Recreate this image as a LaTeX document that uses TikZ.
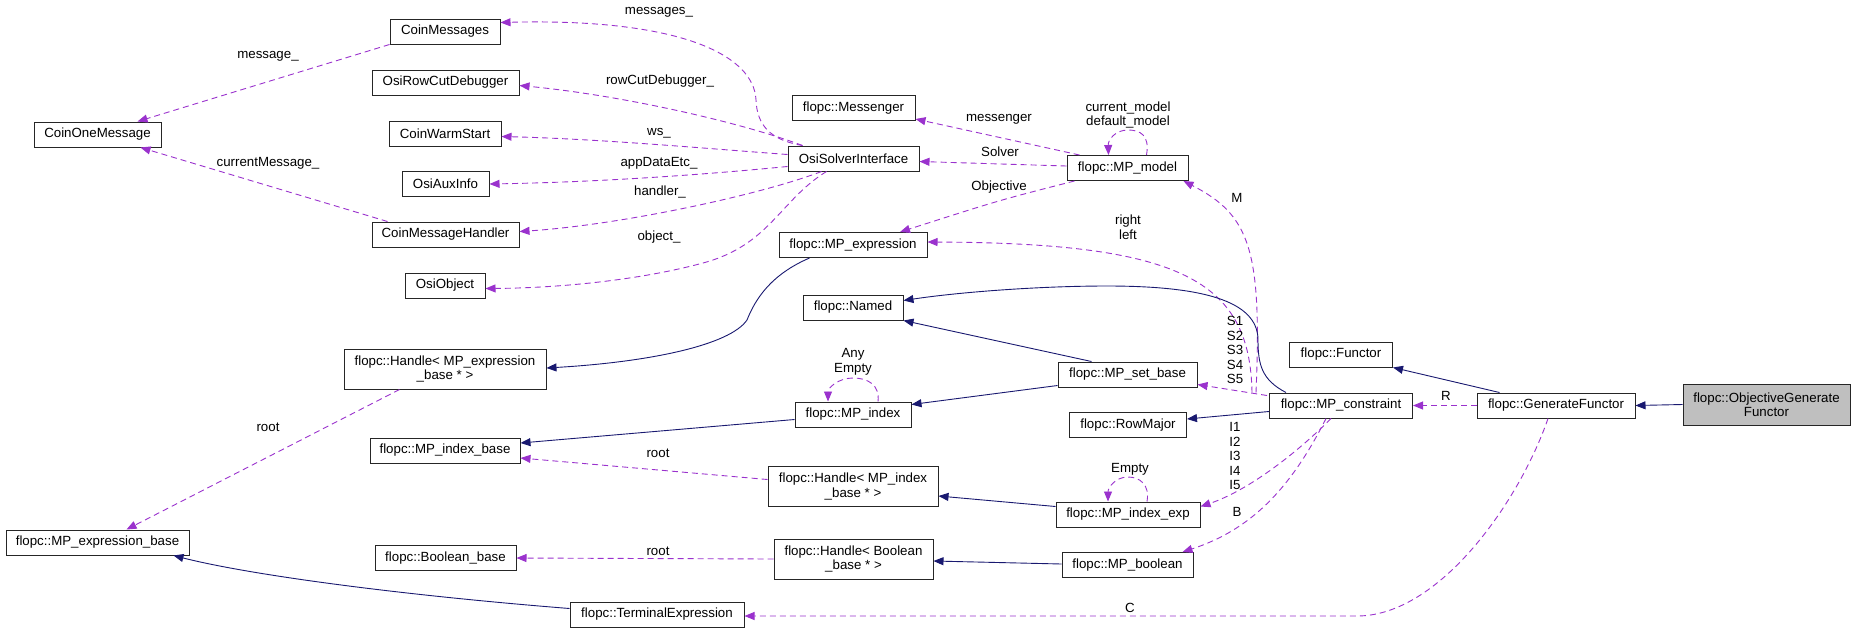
\documentclass[tikz,border=0pt]{standalone}
\usepackage{fontspec}
\setmainfont{Liberation Sans}
\usetikzlibrary{arrows.meta,calc}
\definecolor{dep}{HTML}{9A32CD}
\definecolor{inh}{HTML}{191970}
\begin{document}
\begin{tikzpicture}[x=1pt,y=-1pt,
  every node/.style={font=\fontsize{13.3}{14.5}\selectfont},
  box/.style={draw=black!85,line width=1pt,inner sep=0pt,minimum height=25pt,align=center},
  box2/.style={box,minimum height=40pt},
  lbl/.style={inner sep=0pt,align=center},
  dep/.style={draw=dep,line width=0.9pt,dash pattern=on 6pt off 4pt,-{Triangle[length=10pt,width=8pt]}},
  inh/.style={draw=inh,line width=0.9pt,-{Triangle[length=10pt,width=8pt]}}]
\useasboundingbox (0,0) rectangle (1856,633);
% nodes
\node[box,minimum width=110pt] (cmsgs) at (445,31.5) {CoinMessages};
\node[box,minimum width=147pt] (rowcut) at (445.5,82.5) {OsiRowCutDebugger};
\node[box,minimum width=112pt] (warm) at (445,133.5) {CoinWarmStart};
\node[box,minimum width=87pt] (aux) at (445.5,184) {OsiAuxInfo};
\node[box,minimum width=147pt] (chand) at (445.5,234.5) {CoinMessageHandler};
\node[box,minimum width=80pt] (oobj) at (445,285.5) {OsiObject};
\node[box,minimum width=127pt] (com) at (97.5,134.5) {CoinOneMessage};
\node[box,minimum width=123pt] (messenger) at (853.5,108) {flopc::Messenger};
\node[box,minimum width=131pt] (osi) at (853.5,158.5) {OsiSolverInterface};
\node[box,minimum width=148pt] (mpexpr) at (853,245) {flopc::MP\_expression};
\node[box,minimum width=100pt] (named) at (853,307.5) {flopc::Named};
\node[box,minimum width=121pt] (model) at (1127.5,168) {flopc::MP\_model};
\node[box2,minimum width=202pt] (hexpr) at (445,369) {flopc::Handle< MP\_expression\\\_base * >};
\node[box,minimum width=150pt] (idxbase) at (445,450.5) {flopc::MP\_index\_base};
\node[box,minimum width=183pt] (exprbase) at (97.5,542.5) {flopc::MP\_expression\_base};
\node[box,minimum width=141pt] (boolbase) at (445.5,558) {flopc::Boolean\_base};
\node[box,minimum width=116pt] (idx) at (853,414.5) {flopc::MP\_index};
\node[box2,minimum width=170pt] (hidx) at (853,486.5) {flopc::Handle< MP\_index\\\_base * >};
\node[box2,minimum width=159pt] (hbool) at (853.5,559) {flopc::Handle< Boolean\\\_base * >};
\node[box,minimum width=174pt] (term) at (657,614.5) {flopc::TerminalExpression};
\node[box,minimum width=139pt] (setbase) at (1127.5,374.5) {flopc::MP\_set\_base};
\node[box,minimum width=117pt] (rowmajor) at (1128,425) {flopc::RowMajor};
\node[box,minimum width=144pt] (idxexp) at (1128,514.5) {flopc::MP\_index\_exp};
\node[box,minimum width=131pt] (mpbool) at (1127.5,565) {flopc::MP\_boolean};
\node[box,minimum width=103pt] (functor) at (1341,354.5) {flopc::Functor};
\node[box,minimum width=143pt] (mpcon) at (1341,405.5) {flopc::MP\_constraint};
\node[box,minimum width=158pt] (gen) at (1556,405.5) {flopc::GenerateFunctor};
\node[box2,minimum width=167pt,minimum height=41pt,fill=black!25] (obj) at (1766.5,404.5) {flopc::ObjectiveGenerate\\Functor};
% dependency edges
\draw[dep] (cmsgs.south west) -- ($(com.north east)+(-24,0)$);
\draw[dep] ($(chand.north west)+(16,0)$) -- ($(com.south east)+(-21,0)$);
\draw[dep] ($(osi.north west)+(15,0)$) .. controls (770,140) and (757,125) .. (756,100) .. controls (754,55) and (680,18) .. ($(cmsgs.east)+(0,-9)$);
\draw[dep] ($(osi.north west)+(15,0)$) .. controls (740,122) and (620,95) .. ($(rowcut.east)+(0,3)$);
\draw[dep] ($(osi.west)+(0,-4)$) .. controls (700,148) and (600,139) .. ($(warm.east)+(0,3)$);
\draw[dep] ($(osi.west)+(0,8)$) .. controls (700,175) and (600,182) .. (aux.east);
\draw[dep] ($(osi.south west)+(34,0)$) .. controls (760,195) and (620,225) .. ($(chand.east)+(0,-3)$);
\draw[dep] ($(osi.south west)+(39,0)$) .. controls (780,200) and (770,245) .. (703,263) .. controls (640,280) and (560,288) .. ($(oobj.east)+(0,3)$);
\draw[dep] ($(model.north west)+(13,0)$) -- ($(messenger.east)+(0,11)$);
\draw[dep] ($(model.west)+(0,-2)$) -- ($(osi.east)+(0,3)$);
\draw[dep] ($(model.south west)+(8,0)$) .. controls (1000,200) .. ($(mpexpr.north)+(47,0)$);
\draw[dep] ($(model.north)+(19,0)$) .. controls (1150,135) and (1140,130) .. (1128,130) .. controls (1115,130) and (1108,140) .. ($(model.north)+(-19,0)$);
\draw[dep] ($(mpcon.north west)+(-13,0)$) .. controls (1262,250) and (1250,215) .. ($(model.south east)+(-5,0)$);
\draw[dep] ($(mpcon.north west)+(-17,0)$) .. controls (1250,280) and (1180,243) .. ($(mpexpr.east)+(0,-3)$);
\draw[dep] ($(mpcon.west)+(-2,-10)$) -- ($(setbase.east)+(0,10)$);
\draw[dep] ($(mpcon.south west)+(62,0)$) .. controls (1300,450) and (1250,490) .. ($(idxexp.east)+(0,-8)$);
\draw[dep] ($(mpcon.south west)+(57,0)$) .. controls (1290,490) and (1250,530) .. ($(mpbool.north east)+(-11,0)$);
\draw[dep] ($(idx.north)+(25,0)$) .. controls (880,385) and (868,378) .. (853,378) .. controls (838,378) and (828,388) .. ($(idx.north)+(-25,0)$);
\draw[dep] ($(idxexp.north)+(19,0)$) .. controls (1150,485) and (1140,477) .. (1128,477) .. controls (1115,477) and (1108,488) .. ($(idxexp.north)+(-20,0)$);
\draw[dep] (gen.west) -- (mpcon.east);
\draw[dep] ($(gen.south)+(-8,0)$) .. controls (1520,500) and (1440,616) .. (1357,616) -- ($(term.east)+(0,1.5)$);
\draw[dep] ($(hexpr.south west)+(56,0)$) -- ($(exprbase.north)+(29,0)$);
\draw[dep] ($(hidx.west)+(0,-7)$) -- ($(idxbase.east)+(0,7.5)$);
\draw[dep] (hbool.west) -- (boolbase.east);
% inheritance edges
\draw[inh] ($(mpexpr.south west)+(31,0)$) .. controls (770,275) and (755,300) .. (747,320) .. controls (730,345) and (650,362) .. ($(hexpr.east)+(0,-1)$);
\draw[inh] ($(mpcon.north west)+(17,0)$) .. controls (1262,380) and (1258,365) .. (1258,340) .. controls (1258,300) and (1200,286) .. (1107,286) .. controls (1040,286) and (960,292) .. ($(named.east)+(0,-7)$);
\draw[inh] ($(setbase.north west)+(34,0)$) -- (named.south east);
\draw[inh] ($(setbase.south west)+(0,-2)$) -- ($(idx.north east)+(0,3)$);
\draw[inh] ($(idx.west)+(0,5)$) -- ($(idxbase.east)+(0,-7.5)$);
\draw[inh] ($(gen.north west)+(23,0)$) -- (functor.south east);
\draw[inh] ($(mpcon.west)+(0,6)$) -- ($(rowmajor.east)+(0,-6)$);
\draw[inh] ($(idxexp.west)+(0,-8)$) -- ($(hidx.east)+(0,9.5)$);
\draw[inh] ($(mpbool.west)+(0,-1)$) -- ($(hbool.east)+(0,2)$);
\draw[inh] ($(term.west)+(0,-6)$) .. controls (400,595) and (250,575) .. ($(exprbase.south east)+(-16,0)$);
\draw[inh] (obj.west) -- (gen.east);
% labels
\node[lbl] (l1) at (268,56) {message\_};
\node[lbl] (l2) at (268,163) {currentMessage\_};
\node[lbl] (l3) at (659,12) {messages\_};
\node[lbl] (l4) at (660,81) {rowCutDebugger\_};
\node[lbl] (l5) at (659,133) {ws\_};
\node[lbl] (l6) at (659,163) {appDataEtc\_};
\node[lbl] (l7) at (660,192) {handler\_};
\node[lbl] (l8) at (659,237) {object\_};
\node[lbl] (l9) at (999,119) {messenger};
\node[lbl] (l10) at (1000,152) {Solver};
\node[lbl] (l11) at (999,187) {Objective};
\node[lbl] (l12) at (1128,115) {current\_model\\default\_model};
\node[lbl] (l13) at (1237,198) {M};
\node[lbl] (l14) at (1128,227) {right\\left};
\node[lbl] (l15) at (1235,350) {S1\\S2\\S3\\S4\\S5};
\node[lbl] (l16) at (1235,456) {I1\\I2\\I3\\I4\\I5};
\node[lbl] (l17) at (1237,512) {B};
\node[lbl] (l18) at (853,362) {Any\\Empty};
\node[lbl] (l19) at (1130,469) {Empty};
\node[lbl] (l20) at (1446,396) {R};
\node[lbl] (l21) at (1130,608) {C};
\node[lbl] (l22) at (268,427) {root};
\node[lbl] (l23) at (658,453) {root};
\node[lbl] (l24) at (658,551) {root};
\end{tikzpicture}
\end{document}
